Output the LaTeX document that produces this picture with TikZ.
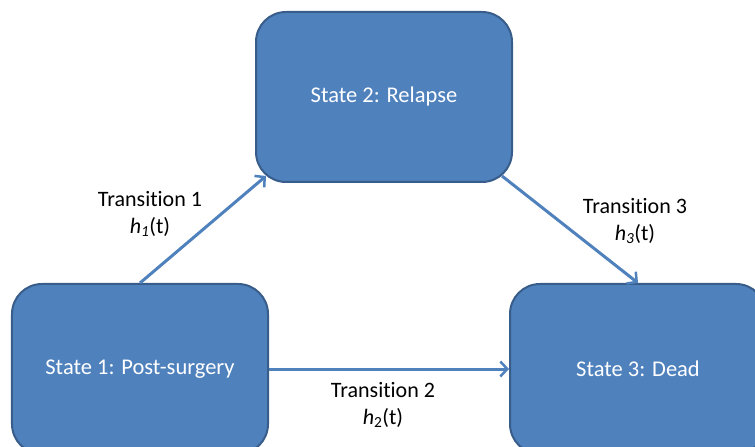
\documentclass[tikz,border=0pt]{standalone}
\usepackage{fontspec}
\setmainfont[Ligatures={NoCommon}]{Carlito}
\usetikzlibrary{arrows.meta,calc}
\definecolor{boxfill}{HTML}{4F81BD}
\definecolor{boxline}{HTML}{385D8A}
\begin{document}
\begin{tikzpicture}[x=1bp,y=-1bp,
  statebox/.style={draw=boxline,line width=2bp,fill=boxfill,rounded corners=30bp,
    minimum width=256bp,minimum height=170bp,text=white,font=\fontsize{22.5bp}{27bp}\selectfont,inner sep=0pt},
  arr/.style={draw=boxfill,line width=3bp,-{Straight Barb[length=7bp,width=15bp,line width=2.5bp]}},
  lab/.style={align=center,font=\fontsize{22bp}{27bp}\selectfont,text=black,inner sep=0pt}]
\useasboundingbox (0,0) rectangle (755,447);
\node[statebox] (s2) at (384,97) {State 2: Relapse};
\node[statebox] (s1) at (140,369) {State 1: Post-surgery};
\node[statebox] (s3) at (638,369) {State 3: Dead};
\draw[arr] (s1.north) -- ($(s2.south west)+(11,-7)$);
\draw[arr] ($(s2.south east)+(-11,-7)$) -- (s3.north);
\draw[arr] (s1.east) -- (s3.west);
\node[lab] (l1) at (150,214) {Transition 1\\\textit{h\textsubscript{1}}(t)};
\node[lab] (l3) at (635,221) {Transition 3\\\textit{h\textsubscript{3}}(t)};
\node[lab] (l2) at (383,405) {Transition 2\\\textit{h}\textsubscript{2}(t)};
\end{tikzpicture}
\end{document}
